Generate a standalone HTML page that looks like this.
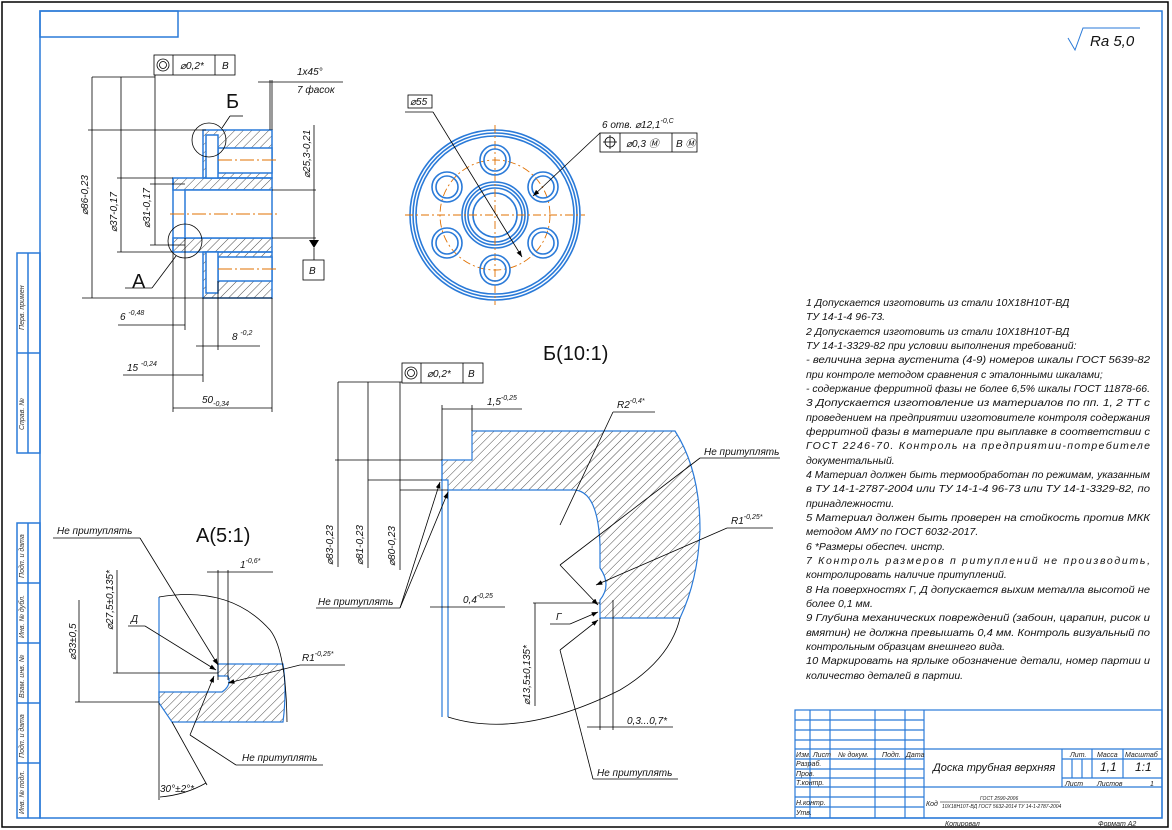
<!DOCTYPE html>
<html><head><meta charset="utf-8"><style>
html,body{margin:0;padding:0;background:#fff;}
#c{position:relative;width:1172px;height:830px;overflow:hidden;}
svg{position:absolute;left:0;top:0;}
</style></head><body><div id="c">
<svg width="1172" height="830" viewBox="0 0 1172 830" font-family="Liberation Sans, sans-serif" font-style="italic">
<defs>
<pattern id="h" width="6" height="6" patternUnits="userSpaceOnUse" patternTransform="rotate(45)">
<line x1="0" y1="0" x2="0" y2="6" stroke="#222" stroke-width="0.8"/></pattern>
<marker id="a" markerWidth="8" markerHeight="6" refX="8" refY="3" orient="auto"><path d="M0,0 L8,3 L0,6z" fill="#000"/></marker>
</defs>
<rect x="2" y="2" width="1166" height="825" fill="none" stroke="#000" stroke-width="1.5"/>
<g fill="none" stroke="#2a7ad8" stroke-width="1.5">
<rect x="40" y="11" width="1122" height="807"/>
<rect x="40" y="11" width="138" height="26"/>
<rect x="17" y="253" width="23" height="200"/><line x1="28" y1="253" x2="28" y2="453"/><line x1="17" y1="353" x2="40" y2="353"/>
<rect x="17" y="523" width="23" height="295"/><line x1="28" y1="523" x2="28" y2="818"/>
<line x1="17" y1="583" x2="40" y2="583"/><line x1="17" y1="643" x2="40" y2="643"/><line x1="17" y1="703" x2="40" y2="703"/><line x1="17" y1="763" x2="40" y2="763"/>
</g>
<g font-size="7" fill="#333">
<text transform="translate(24,330) rotate(-90)">Перв. примен</text>
<text transform="translate(24,430) rotate(-90)">Справ. №</text>
<text transform="translate(24,578) rotate(-90)">Подп. и дата</text>
<text transform="translate(24,638) rotate(-90)">Инв. № дубл.</text>
<text transform="translate(24,698) rotate(-90)">Взам. инв. №</text>
<text transform="translate(24,758) rotate(-90)">Подп. и дата</text>
<text transform="translate(24,814) rotate(-90)">Инв. № подл.</text>
</g>
<path d="M1068,38 L1075,50 L1083,28 L1140,28" fill="none" stroke="#2a7ad8" stroke-width="1"/>
<text x="1090" y="46" font-size="15" fill="#111">Ra 5,0</text>

<!-- MAIN SECTION VIEW -->
<g stroke="#2a7ad8" stroke-width="1.5">
<rect x="203" y="130" width="69" height="48" fill="url(#h)"/>
<rect x="203" y="252" width="69" height="46" fill="url(#h)"/>
<rect x="173" y="178" width="99" height="12" fill="url(#h)"/>
<rect x="173" y="238" width="99" height="14" fill="url(#h)"/>
<rect x="218" y="148" width="54" height="25" fill="#fff"/>
<rect x="218" y="257" width="54" height="24" fill="#fff"/>
<rect x="206" y="135" width="12" height="43" fill="#fff"/>
<rect x="206" y="252" width="12" height="41" fill="#fff"/>
<rect x="185" y="190" width="87" height="48" fill="#fff"/>
<line x1="173" y1="178" x2="173" y2="252"/>
</g>
<g stroke="#e07000" stroke-width="1" stroke-dasharray="14,3,2,3">
<line x1="218" y1="160" x2="278" y2="160"/><line x1="170" y1="214" x2="278" y2="214"/><line x1="218" y1="269" x2="278" y2="269"/>
</g>
<g stroke="#000" stroke-width="0.8" fill="none">
<rect x="154" y="55" width="81" height="20"/><line x1="173" y1="55" x2="173" y2="75"/><line x1="215" y1="55" x2="215" y2="75"/>
<circle cx="163" cy="65" r="6"/><circle cx="163" cy="65" r="3.5"/>
<line x1="92" y1="77" x2="155" y2="77"/><line x1="155" y1="75" x2="155" y2="245"/>
<line x1="92" y1="77" x2="92" y2="298"/><line x1="88" y1="130" x2="206" y2="130"/><line x1="82" y1="298" x2="272" y2="298"/>
<line x1="121" y1="77" x2="121" y2="252"/><line x1="117" y1="178" x2="173" y2="178"/><line x1="117" y1="252" x2="173" y2="252"/>
<line x1="150" y1="184" x2="185" y2="184"/><line x1="150" y1="245" x2="185" y2="245"/>
<line x1="272" y1="190" x2="316" y2="190"/><line x1="272" y1="238" x2="316" y2="238"/>
<line x1="314" y1="125" x2="314" y2="240"/>
<rect x="303" y="260" width="21" height="20"/><line x1="314" y1="248" x2="314" y2="260"/>
<line x1="270" y1="80" x2="270" y2="130"/><line x1="272" y1="80" x2="272" y2="130"/>
<line x1="258" y1="82" x2="343" y2="82"/>
<circle cx="209" cy="140" r="17"/><line x1="222" y1="128" x2="230" y2="116"/><line x1="230" y1="116" x2="243" y2="116"/>
<circle cx="185" cy="241" r="17"/><line x1="176" y1="256" x2="152" y2="288"/><line x1="152" y1="288" x2="125" y2="288"/>
<line x1="173" y1="252" x2="173" y2="412"/><line x1="185" y1="238" x2="185" y2="330"/>
<line x1="118" y1="325" x2="185" y2="325"/>
<line x1="203" y1="298" x2="203" y2="382"/><line x1="218" y1="281" x2="218" y2="350"/>
<line x1="196" y1="346" x2="260" y2="346"/>
<line x1="123" y1="375" x2="203" y2="375"/>
<line x1="272" y1="298" x2="272" y2="412"/><line x1="173" y1="408" x2="272" y2="408"/>
</g>
<path d="M309,240 L319,240 L314,248z" fill="#000"/>
<g font-size="10" fill="#111">
<text x="180" y="69">⌀0,2*</text><text x="222" y="69">В</text>
<text x="297" y="75">1x45°</text><text x="297" y="93">7 фасок</text>
<text x="309" y="274">В</text>
<text transform="translate(88,215) rotate(-90)">⌀86-0,23</text>
<text transform="translate(117,232) rotate(-90)">⌀37-0,17</text>
<text transform="translate(150,228) rotate(-90)">⌀31-0,17</text>
<text transform="translate(310,178) rotate(-90)">⌀25,3-0,21</text>
<text x="120" y="320">6 <tspan font-size="7" dy="-5">-0,48</tspan></text>
<text x="232" y="340">8 <tspan font-size="7" dy="-5">-0,2</tspan></text>
<text x="127" y="371">15 <tspan font-size="7" dy="-5">-0,24</tspan></text>
<text x="202" y="403">50<tspan font-size="7" dy="3">-0,34</tspan></text>
</g>
<text x="226" y="108" font-size="20" font-style="normal" fill="#111">Б</text>
<text x="132" y="288" font-size="20" font-style="normal" fill="#111">А</text>

<!-- CIRCLE VIEW -->
<g fill="none" stroke="#2a7ad8" stroke-width="1.6">
<circle cx="495" cy="215" r="85"/><circle cx="495" cy="215" r="82"/><circle cx="495" cy="215" r="79"/>
<circle cx="495" cy="215" r="33"/><circle cx="495" cy="215" r="30"/><circle cx="495" cy="215" r="27"/><circle cx="495" cy="215" r="22"/>
</g>
<g fill="none" stroke="#e07000" stroke-width="0.9" stroke-dasharray="8,3,2,3">
<circle cx="495" cy="215" r="55"/>
<line x1="405" y1="215" x2="585" y2="215"/><line x1="495" y1="125" x2="495" y2="305"/>
</g>
<g fill="none" stroke="#2a7ad8" stroke-width="1.6">
<circle cx="495" cy="160" r="15"/><circle cx="495" cy="160" r="11"/>
<circle cx="495" cy="270" r="15"/><circle cx="495" cy="270" r="11"/>
<circle cx="447" cy="187" r="15"/><circle cx="447" cy="187" r="11"/>
<circle cx="543" cy="187" r="15"/><circle cx="543" cy="187" r="11"/>
<circle cx="447" cy="243" r="15"/><circle cx="447" cy="243" r="11"/>
<circle cx="543" cy="243" r="15"/><circle cx="543" cy="243" r="11"/>
</g>
<g stroke="#000" stroke-width="0.8" fill="none">
<rect x="408" y="95" width="24" height="13"/><line x1="405" y1="112" x2="433" y2="112"/><line x1="433" y1="112" x2="522" y2="257" marker-end="url(#a)"/>
<rect x="600" y="133" width="97" height="19"/><line x1="620" y1="133" x2="620" y2="152"/><line x1="672" y1="133" x2="672" y2="152"/>
<line x1="600" y1="133" x2="533" y2="196" marker-end="url(#a)"/>
<circle cx="610" cy="142" r="5"/><line x1="603" y1="142" x2="617" y2="142"/><line x1="610" y1="135" x2="610" y2="149"/>
</g>
<g font-size="10" fill="#111">
<text x="410" y="105">⌀55</text>
<text x="602" y="128">6 отв. ⌀12,1<tspan font-size="7" dy="-5">-0,С</tspan></text>
<text x="626" y="147">⌀0,3 Ⓜ</text><text x="676" y="147">В Ⓜ</text>
</g>

<!-- VIEW Б -->
<text x="543" y="360" font-size="20" font-style="normal" fill="#111">Б(10:1)</text>
<path d="M472,431 L675,431 Q700,470 700,530 Q698,580 680,618 L600,618 L600,600 Q612,585 600,568 L600,545 Q598,492 575,490 L448,490 L448,480 L442,480 L442,460 L472,460 Z" fill="url(#h)" stroke="#2a7ad8" stroke-width="1.2"/>
<g stroke="#2a7ad8" stroke-width="1.2"><line x1="442" y1="460" x2="442" y2="717"/><line x1="448" y1="490" x2="448" y2="717"/></g>
<g stroke="#000" stroke-width="0.8" fill="none">
<path d="M448,717 Q520,740 620,690 Q670,660 680,618"/>
<rect x="402" y="363" width="81" height="20"/><line x1="421" y1="363" x2="421" y2="383"/><line x1="463" y1="363" x2="463" y2="383"/>
<circle cx="411" cy="373" r="6"/><circle cx="411" cy="373" r="3.5"/>
<line x1="338" y1="382" x2="402" y2="382"/>
<line x1="338" y1="382" x2="338" y2="567"/><line x1="368" y1="382" x2="368" y2="568"/><line x1="400" y1="382" x2="400" y2="570"/>
<line x1="335" y1="460" x2="442" y2="460"/><line x1="368" y1="480" x2="442" y2="480"/><line x1="400" y1="490" x2="448" y2="490"/>
<line x1="442" y1="409" x2="522" y2="409"/><line x1="442" y1="405" x2="442" y2="460"/><line x1="472" y1="405" x2="472" y2="431"/>
<line x1="613" y1="412" x2="655" y2="412"/><line x1="613" y1="412" x2="560" y2="525"/>
<line x1="700" y1="458" x2="780" y2="458"/><line x1="700" y1="458" x2="560" y2="565"/><line x1="560" y1="565" x2="598" y2="605" marker-end="url(#a)"/>
<line x1="727" y1="528" x2="773" y2="528"/><line x1="727" y1="528" x2="596" y2="585" marker-end="url(#a)"/>
<line x1="316" y1="608" x2="400" y2="608"/><line x1="400" y1="608" x2="440" y2="482" marker-end="url(#a)"/><line x1="400" y1="608" x2="448" y2="492" marker-end="url(#a)"/>
<line x1="430" y1="607" x2="505" y2="607"/>
<line x1="550" y1="624" x2="570" y2="624"/><line x1="570" y1="624" x2="598" y2="612" marker-end="url(#a)"/>
<line x1="533" y1="603" x2="600" y2="603"/><line x1="535" y1="603" x2="535" y2="706"/>
<line x1="600" y1="618" x2="600" y2="730"/><line x1="613" y1="600" x2="613" y2="730"/>
<line x1="587" y1="727" x2="673" y2="727"/>
<line x1="593" y1="779" x2="678" y2="779"/><line x1="593" y1="779" x2="560" y2="650"/><line x1="560" y1="650" x2="598" y2="620" marker-end="url(#a)"/>
</g>
<g font-size="10" fill="#111">
<text x="427" y="377">⌀0,2*</text><text x="468" y="377">В</text>
<text x="487" y="405">1,5<tspan font-size="7" dy="-5">-0,25</tspan></text>
<text x="617" y="408">R2<tspan font-size="7" dy="-5">-0,4*</tspan></text>
<text x="704" y="455">Не притуплять</text>
<text x="731" y="524">R1<tspan font-size="7" dy="-5">-0,25*</tspan></text>
<text x="318" y="605">Не притуплять</text>
<text x="463" y="603">0,4<tspan font-size="7" dy="-5">-0,25</tspan></text>
<text x="556" y="620">Г</text>
<text x="627" y="724">0,3...0,7*</text>
<text x="597" y="776">Не притуплять</text>
<text transform="translate(333,565) rotate(-90)">⌀83-0,23</text>
<text transform="translate(363,565) rotate(-90)">⌀81-0,23</text>
<text transform="translate(395,566) rotate(-90)">⌀80-0,23</text>
<text transform="translate(530,705) rotate(-90)">⌀13,5±0,135*</text>
</g>

<!-- VIEW A -->
<text x="196" y="542" font-size="20" font-style="normal" fill="#111">А(5:1)</text>
<path d="M218,664 L283,664 Q287,690 283,722 L172,722 L159,703 L159,692 L222,692 Q232,685 228,676 L218,676 Z" fill="url(#h)" stroke="#2a7ad8" stroke-width="1.2"/>
<line x1="159" y1="597" x2="159" y2="703" stroke="#2a7ad8" stroke-width="1.2"/>
<g stroke="#000" stroke-width="0.8" fill="none">
<path d="M159,597 Q230,585 270,630 Q286,650 287,722"/>
<line x1="53" y1="538" x2="140" y2="538"/><line x1="140" y1="538" x2="218" y2="665" marker-end="url(#a)"/>
<line x1="79" y1="600" x2="79" y2="702"/><line x1="75" y1="702" x2="159" y2="702"/>
<line x1="117" y1="570" x2="117" y2="673"/><line x1="113" y1="673" x2="218" y2="673"/>
<line x1="128" y1="626" x2="145" y2="626"/><line x1="145" y1="626" x2="216" y2="670" marker-end="url(#a)"/>
<line x1="207" y1="572" x2="273" y2="572"/><line x1="218" y1="570" x2="218" y2="680"/><line x1="228" y1="570" x2="228" y2="680"/>
<line x1="300" y1="665" x2="345" y2="665"/><line x1="300" y1="665" x2="228" y2="683" marker-end="url(#a)"/>
<line x1="236" y1="765" x2="323" y2="765"/><line x1="236" y1="765" x2="190" y2="735"/><line x1="190" y1="735" x2="214" y2="676" marker-end="url(#a)"/>
<line x1="159" y1="703" x2="159" y2="800"/><line x1="172" y1="722" x2="207" y2="785"/>
<path d="M160,797 Q185,795 206,783"/>
</g>
<g font-size="10" fill="#111">
<text x="57" y="534">Не притуплять</text>
<text transform="translate(76,660) rotate(-90)">⌀33±0,5</text>
<text transform="translate(113,630) rotate(-90)">⌀27,5±0,135*</text>
<text x="131" y="622">Д</text>
<text x="240" y="568">1<tspan font-size="7" dy="-5">-0,6*</tspan></text>
<text x="302" y="661">R1<tspan font-size="7" dy="-5">-0,25*</tspan></text>
<text x="242" y="761">Не притуплять</text>
<text x="160" y="792">30°±2°*</text>
</g>

<!-- NOTES -->
<g font-size="10.5" fill="#111">
<text x="806" y="306">1 Допускается изготовить из стали 10Х18Н10Т-ВД</text>
<text x="806" y="320">ТУ 14-1-4 96-73.</text>
<text x="806" y="335">2 Допускается изготовить из стали 10Х18Н10Т-ВД</text>
<text x="806" y="349">ТУ 14-1-3329-82 при условии выполнения требований:</text>
<text x="806" y="363" textLength="344" lengthAdjust="spacingAndGlyphs">- величина зерна аустенита (4-9) номеров шкалы ГОСТ 5639-82</text>
<text x="806" y="378">при контроле методом сравнения с эталонными шкалами;</text>
<text x="806" y="392" textLength="344" lengthAdjust="spacingAndGlyphs">- содержание ферритной фазы не более 6,5% шкалы ГОСТ 11878-66.</text>
<text x="806" y="406" textLength="344" lengthAdjust="spacingAndGlyphs">3 Допускается изготовление из материалов по пп. 1, 2 ТТ с</text>
<text x="806" y="421" textLength="344" lengthAdjust="spacingAndGlyphs">проведением на предприятии изготовителе контроля содержания</text>
<text x="806" y="435" textLength="344" lengthAdjust="spacingAndGlyphs">ферритной фазы в материале при выплавке в соответствии с</text>
<text x="806" y="449" textLength="344" lengthAdjust="spacing">ГОСТ 2246-70. Контроль на предприятии-потребителе</text>
<text x="806" y="464">документальный.</text>
<text x="806" y="478" textLength="344" lengthAdjust="spacingAndGlyphs">4 Материал должен быть термообработан по режимам, указанным</text>
<text x="806" y="492" textLength="344" lengthAdjust="spacingAndGlyphs">в ТУ 14-1-2787-2004 или ТУ 14-1-4 96-73 или ТУ 14-1-3329-82, по</text>
<text x="806" y="507">принадлежности.</text>
<text x="806" y="521" textLength="344" lengthAdjust="spacingAndGlyphs">5 Материал должен быть проверен на стойкость против МКК</text>
<text x="806" y="535">методом АМУ по ГОСТ 6032-2017.</text>
<text x="806" y="550">6 *Размеры обеспеч. инстр.</text>
<text x="806" y="564" textLength="344" lengthAdjust="spacing">7 Контроль размеров п ритуплений не производить,</text>
<text x="806" y="578">контролировать наличие притуплений.</text>
<text x="806" y="593" textLength="344" lengthAdjust="spacingAndGlyphs">8 На поверхностях Г, Д допускается выхим металла высотой не</text>
<text x="806" y="607">более 0,1 мм.</text>
<text x="806" y="621" textLength="344" lengthAdjust="spacingAndGlyphs">9 Глубина механических повреждений (забоин, царапин, рисок и</text>
<text x="806" y="636" textLength="344" lengthAdjust="spacingAndGlyphs">вмятин) не должна превышать 0,4 мм. Контроль визуальный по</text>
<text x="806" y="650">контрольным образцам внешнего вида.</text>
<text x="806" y="664" textLength="344" lengthAdjust="spacingAndGlyphs">10 Маркировать на ярлыке обозначение детали, номер партии и</text>
<text x="806" y="679">количество деталей в партии.</text>
</g>

<!-- TITLE BLOCK -->
<g stroke="#2a7ad8" stroke-width="1.2" fill="none">
<rect x="795" y="710" width="367" height="108"/>
<line x1="810" y1="710" x2="810" y2="818"/><line x1="830" y1="710" x2="830" y2="818"/>
<line x1="875" y1="710" x2="875" y2="818"/><line x1="905" y1="710" x2="905" y2="818"/><line x1="924" y1="710" x2="924" y2="818"/>
<line x1="795" y1="720" x2="924" y2="720"/><line x1="795" y1="730" x2="924" y2="730"/><line x1="795" y1="740" x2="924" y2="740"/>
<line x1="795" y1="749" x2="1162" y2="749"/><line x1="795" y1="759" x2="924" y2="759"/><line x1="795" y1="769" x2="924" y2="769"/>
<line x1="795" y1="778" x2="924" y2="778"/><line x1="795" y1="787" x2="1162" y2="787"/><line x1="795" y1="797" x2="924" y2="797"/><line x1="795" y1="807" x2="924" y2="807"/>
<line x1="1062" y1="749" x2="1062" y2="787"/><line x1="1092" y1="749" x2="1092" y2="778"/><line x1="1123" y1="749" x2="1123" y2="778"/>
<line x1="1062" y1="759" x2="1162" y2="759"/><line x1="1062" y1="778" x2="1162" y2="778"/>
<line x1="1072" y1="759" x2="1072" y2="778"/><line x1="1082" y1="759" x2="1082" y2="778"/>
</g>
<g font-size="7" fill="#222">
<text x="796" y="757">Изм. Лист</text><text x="838" y="757">№ докум.</text><text x="882" y="757">Подп.</text><text x="906" y="757">Дата</text>
<text x="796" y="766">Разраб.</text><text x="796" y="776">Пров.</text><text x="796" y="785">Т.контр.</text>
<text x="796" y="805">Н.контр.</text><text x="796" y="815">Утв.</text>
<text x="1070" y="757">Лит.</text><text x="1097" y="757">Масса</text><text x="1125" y="757">Масштаб</text>
<text x="1065" y="786">Лист</text><text x="1097" y="786">Листов</text><text x="1150" y="786">1</text>
<text x="926" y="806">Код</text>
<text x="980" y="800" font-size="5">ГОСТ 2590-2006</text>
<text x="942" y="808" font-size="5">10Х18Н10Т-ВД ГОСТ 5632-2014 ТУ 14-1-2787-2004</text>
<text x="945" y="826">Копировал</text><text x="1098" y="826">Формат   А2</text>
</g>
<line x1="940" y1="802" x2="1060" y2="802" stroke="#000" stroke-width="0.6"/>
<text x="933" y="771" font-size="11" fill="#111">Доска трубная верхняя</text>
<text x="1100" y="771" font-size="12" fill="#111">1,1</text><text x="1135" y="771" font-size="12" fill="#111">1:1</text>
</svg>
</div></body></html>
